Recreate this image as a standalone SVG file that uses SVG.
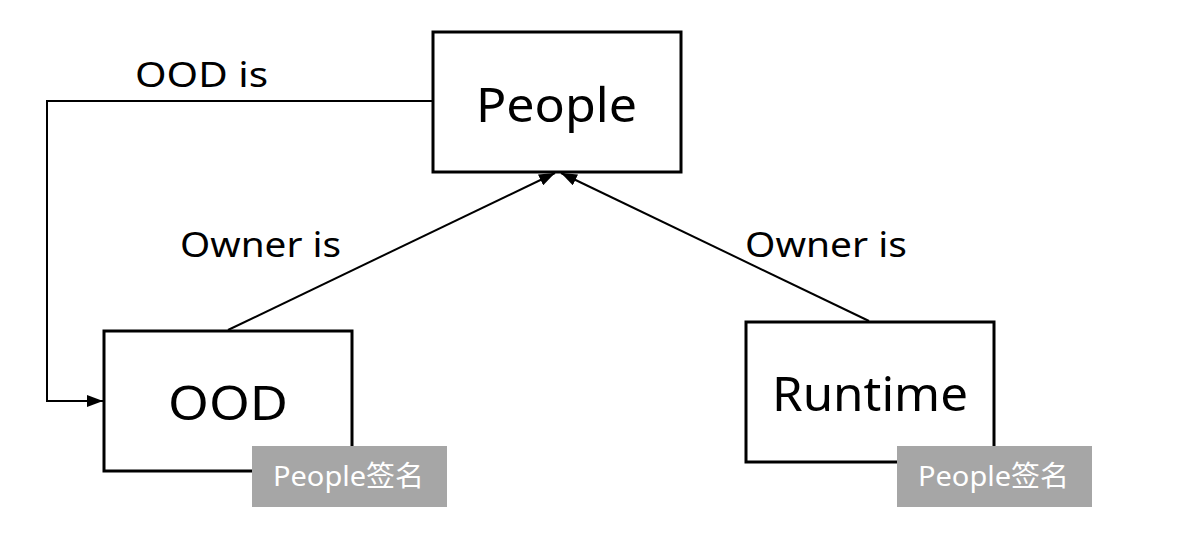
<svg xmlns="http://www.w3.org/2000/svg" width="1194" height="538" viewBox="0 0 1194 538">
<style>
.box{fill:#fff;stroke:#000;stroke-width:3}
.big{font-family:"Noto Sans","Noto Sans CJK SC",sans-serif;fill:#000;font-size:48px}
.lbl{font-family:"Noto Sans","Noto Sans CJK SC",sans-serif;font-size:34px;fill:#000}
.tag{fill:#a6a6a6}
.tagt{font-family:"Noto Sans","Noto Sans CJK SC",sans-serif;font-size:28px;fill:#fff}
.con{fill:none;stroke:#000;stroke-width:2}
</style>
<defs>
<marker id="ah" viewBox="0 0 16 12" refX="16" refY="6" markerWidth="16" markerHeight="12" markerUnits="userSpaceOnUse" orient="auto">
<path d="M0,0 L16,6 L0,12 Z" fill="#000"/>
</marker>
</defs>
<g id="connectors">
<path class="con" d="M432,101 H47 V401 H103" marker-end="url(#ah)"/>
<path class="con" d="M228,330 L555,173" marker-end="url(#ah)"/>
<path class="con" d="M869,321 L561,173" marker-end="url(#ah)"/>
<text class="lbl" x="135" y="87" textLength="133" lengthAdjust="spacingAndGlyphs">OOD is</text>
<text class="lbl" x="180" y="257" textLength="161" lengthAdjust="spacingAndGlyphs">Owner is</text>
<text class="lbl" x="745" y="257" textLength="162" lengthAdjust="spacingAndGlyphs">Owner is</text>
</g>
<g id="people">
<rect class="box" x="433" y="32" width="248" height="140"/>
<text class="big" x="476" y="122" textLength="161" lengthAdjust="spacingAndGlyphs">People</text>
</g>
<g id="ood">
<rect class="box" x="104" y="331" width="248" height="140"/>
<text class="big" x="168" y="420" textLength="120" lengthAdjust="spacingAndGlyphs">OOD</text>
<rect class="tag" x="252" y="446" width="195" height="61"/>
<text class="tagt" x="273" y="486" textLength="151" lengthAdjust="spacingAndGlyphs">People签名</text>
</g>
<g id="runtime">
<rect class="box" x="746" y="322" width="248" height="140"/>
<text class="big" x="772" y="411" textLength="196" lengthAdjust="spacingAndGlyphs">Runtime</text>
<rect class="tag" x="897" y="446" width="195" height="61"/>
<text class="tagt" x="918" y="486" textLength="151" lengthAdjust="spacingAndGlyphs">People签名</text>
</g>
</svg>
